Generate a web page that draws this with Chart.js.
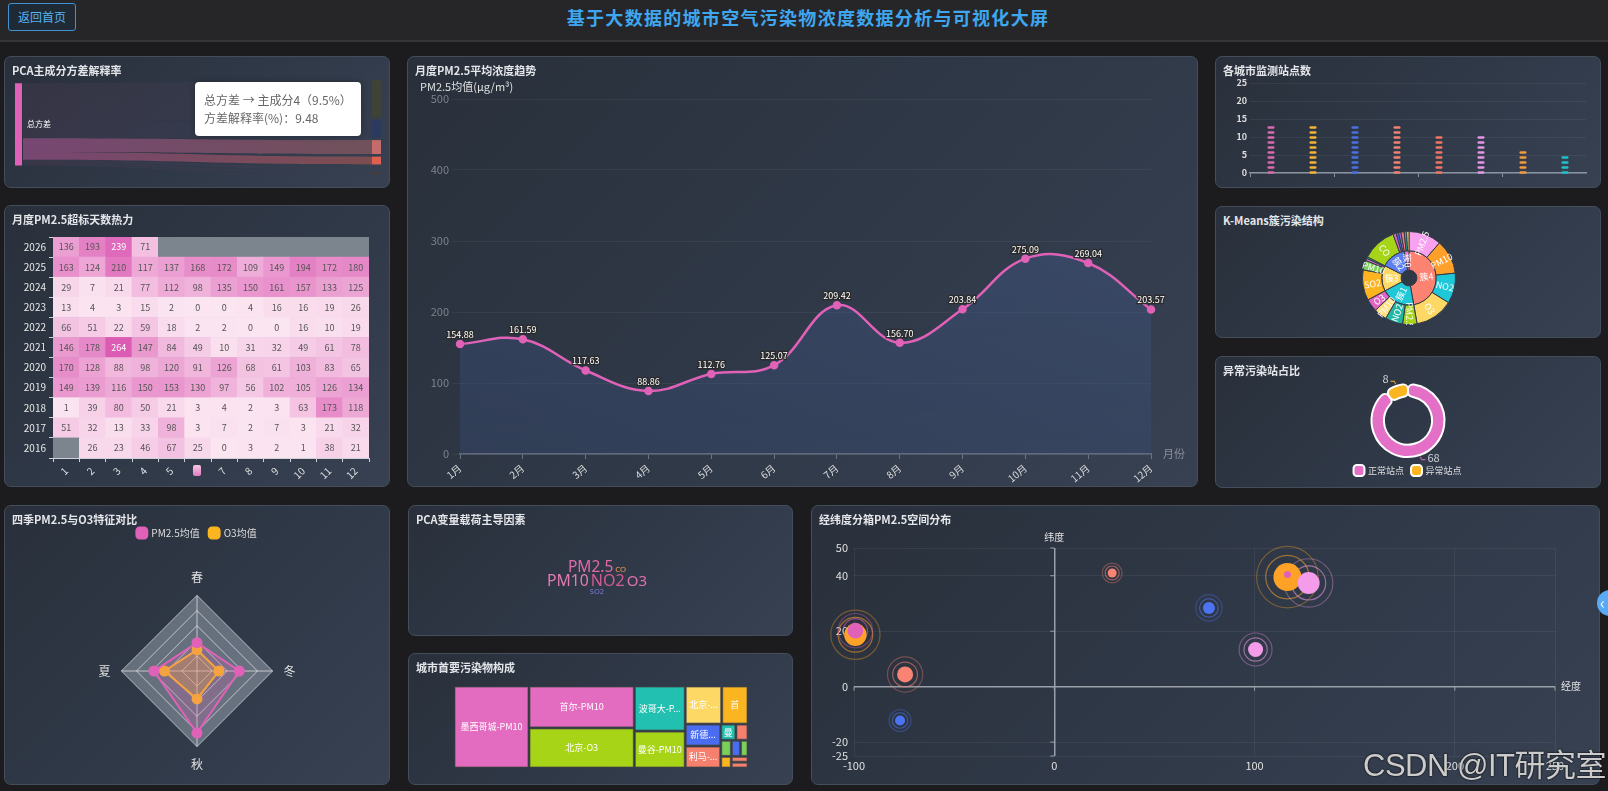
<!DOCTYPE html>
<html lang="zh-CN">
<head>
<meta charset="UTF-8">
<title>基于大数据的城市空气污染物浓度数据分析与可视化大屏</title>
<script src="https://cdn.jsdelivr.net/npm/chart.js@4.4.1/dist/chart.umd.min.js"></script>
<style>
  html, body { margin: 0; padding: 0; }
  body { width: 1608px; height: 791px; background: #1c1c1e; position: relative; overflow: hidden;
         font-family: "Noto Sans CJK SC", "Microsoft YaHei", sans-serif; }
  .header { position: absolute; left: 0; top: 0; width: 1608px; height: 40px; background: #262628; border-bottom: 2px solid #353538; }
  .back-btn { position: absolute; left: 8px; top: 3px; width: 66px; height: 26px; border: 1px solid #3f93d2; border-radius: 3px;
              color: #55b4f4; font-size: 12px; line-height: 26px; text-align: center; background: #1f2a34; }
  .title { position: absolute; left: 4px; width: 1608px; top: 7px; line-height: 20px; text-align: center; color: #3ea7ef;
           font-size: 18px; font-weight: bold; letter-spacing: 1.3px; }
  .panel { position: absolute; box-sizing: border-box; border: 1px solid #444d5b; border-radius: 7px; overflow: hidden;
           background: linear-gradient(135deg, #29303b 0%, #303948 55%, #374152 100%); }
  .ptitle { position: absolute; left: 7px; top: 6px; line-height: 14px; color: #e4e6ea; font-size: 11px; font-weight: bold; z-index: 2; }
  .panel canvas { position: absolute; }
  .tip { position: absolute; left: 190px; top: 25px; width: 166px; height: 54px; box-sizing: border-box; background: #fff;
         border-radius: 4px; box-shadow: 0 0 6px rgba(0,0,0,0.3); padding: 9px 0 0 9px; color: #666; font-size: 12px; line-height: 18px; z-index: 3; }
  .handle { position: absolute; left: 188px; top: 259px; width: 8px; height: 11px; border-radius: 2px;
            background: linear-gradient(#f6c6e3, #e27cc2); z-index: 3; }
  .mark { position: absolute; left: 1363px; top: 740px; font-family: "Liberation Sans", "Noto Sans CJK SC", sans-serif; font-size: 31px;
          color: rgba(225,225,225,0.9); text-shadow: 0 0 2px #000, 0 0 1px #000; letter-spacing: -0.5px; }
  .side-btn { position: absolute; left: 1597px; top: 590px; width: 26px; height: 26px; border-radius: 13px; background: #5aa9f5;
              color: #fff; font-size: 16px; line-height: 24px; text-indent: 3px; }
</style>
</head>
<body>
<div class="header">
  <div class="back-btn">返回首页</div>
  <div class="title">基于大数据的城市空气污染物浓度数据分析与可视化大屏</div>
</div>

<div class="panel" style="left:4px;top:56px;width:386px;height:132px">
  <div class="ptitle">PCA主成分方差解释率</div>
  <canvas id="pcaChart" width="384" height="130" style="left:0;top:0"></canvas>
  <div class="tip">总方差 → 主成分4（9.5%）<br>方差解释率(%)：9.48</div>
</div>

<div class="panel" style="left:4px;top:205px;width:386px;height:282px">
  <div class="ptitle">月度PM2.5超标天数热力</div>
  <canvas id="heatChart" width="384" height="280" style="left:0;top:0"></canvas>
  <div class="handle"></div>
</div>

<div class="panel" style="left:407px;top:56px;width:791px;height:431px">
  <div class="ptitle">月度PM2.5平均浓度趋势</div>
  <canvas id="trendChart" width="789" height="429" style="left:0;top:0"></canvas>
</div>

<div class="panel" style="left:1215px;top:56px;width:386px;height:132px">
  <div class="ptitle">各城市监测站点数</div>
  <canvas id="stationChart" width="384" height="130" style="left:0;top:0"></canvas>
</div>

<div class="panel" style="left:1215px;top:206px;width:386px;height:132px">
  <div class="ptitle">K-Means簇污染结构</div>
  <canvas id="clusterChart" width="94" height="94" style="left:146px;top:24px"></canvas>
</div>

<div class="panel" style="left:1215px;top:356px;width:386px;height:132px">
  <div class="ptitle">异常污染站占比</div>
  <canvas id="anomalyChart" width="384" height="114" style="left:0;top:16px"></canvas>
</div>

<div class="panel" style="left:4px;top:505px;width:386px;height:280px">
  <div class="ptitle">四季PM2.5与O3特征对比</div>
  <canvas id="seasonChart" width="384" height="266" style="left:0;top:12px"></canvas>
</div>

<div class="panel" style="left:408px;top:505px;width:385px;height:131px">
  <div class="ptitle">PCA变量载荷主导因素</div>
  <canvas id="cloudChart" width="383" height="111" style="left:0;top:18px"></canvas>
</div>

<div class="panel" style="left:408px;top:653px;width:385px;height:132px">
  <div class="ptitle">城市首要污染物构成</div>
  <canvas id="treeChart" width="383" height="130" style="left:0;top:0"></canvas>
</div>

<div class="panel" style="left:811px;top:505px;width:789px;height:280px">
  <div class="ptitle">经纬度分箱PM2.5空间分布</div>
  <canvas id="geoChart" width="787" height="278" style="left:0;top:0"></canvas>
</div>

<div class="mark">CSDN @IT研究室</div>
<div class="side-btn">‹</div>

<script>
// ---- data ----
const pcaSource = '总方差';
const pcaTargets = ['主成分1', '主成分2', '主成分3', '主成分4', '主成分5', '主成分6', '主成分7'];
const pcaRatio = [45.9, 20.8, 16.9, 9.48, 3.1, 2.3, 1.5];

const heatYears = ['2016', '2017', '2018', '2019', '2020', '2021', '2022', '2023', '2024', '2025', '2026'];
const heatMonths = ['1', '2', '3', '4', '5', '6', '7', '8', '9', '10', '11', '12'];
const overDays = [
    [null, 26, 23, 46, 67, 25, 0, 3, 2, 1, 38, 21],
    [51, 32, 13, 33, 98, 3, 7, 2, 7, 3, 21, 32],
    [1, 39, 80, 50, 21, 3, 4, 2, 3, 63, 173, 118],
    [149, 139, 116, 150, 153, 130, 97, 56, 102, 105, 126, 134],
    [170, 128, 88, 98, 120, 91, 126, 68, 61, 103, 83, 65],
    [146, 178, 264, 147, 84, 49, 10, 31, 32, 49, 61, 78],
    [66, 51, 22, 59, 18, 2, 2, 0, 0, 16, 10, 19],
    [13, 4, 3, 15, 2, 0, 0, 4, 16, 16, 19, 26],
    [29, 7, 21, 77, 112, 98, 135, 150, 161, 157, 133, 125],
    [163, 124, 210, 117, 137, 168, 172, 109, 149, 194, 172, 180],
    [136, 193, 239, 71, null, null, null, null, null, null, null, null]
];

const trendMonths = ['1月', '2月', '3月', '4月', '5月', '6月', '7月', '8月', '9月', '10月', '11月', '12月'];
const trendPm25 = [154.88, 161.59, 117.63, 88.86, 112.76, 125.07, 209.42, 156.70, 203.84, 275.09, 269.04, 203.57];

const stationCities = ['北京', '首尔', '墨西哥城', '波哥大', '新德里', '曼谷', '伊斯坦布尔', '利马'];
const stationCounts = [13, 13, 13, 13, 10, 10, 6, 5];

const clusterNames = ['簇4', '簇1', '簇3', '簇2', '簇0'];
const clusterSubNames = [
    ['PM2.5', 'PM10', 'NO2', 'O3'],
    ['PM2.5', 'NO2', 'PM10', 'O3'],
    ['SO2', 'PM10', 'O3', 'PM2.5'],
    ['CO', 'PM2.5', 'NO2', 'SO2'],
    ['PM2.5', 'PM10', 'NO2']
];
const clusterSubValues = [
    [41, 43, 38, 48],
    [18, 22, 16, 16],
    [38, 12, 3, 2],
    [43, 4, 3, 3],
    [4, 3, 3]
];

const anomalyLabels = ['正常站点', '异常站点'];
const anomalyCounts = [68, 8];

const seasons = ['春', '冬', '秋', '夏'];
const seasonPm25 = [75, 112, 164, 114];
const seasonO3 = [56, 58, 74, 86];

const cloudWords = ['PM2.5', 'CO', 'PM10', 'NO2', 'O3', 'SO2'];
const cloudWeights = [0.42, 0.11, 0.43, 0.44, 0.40, 0.10];

const treeNames = ['墨西哥城-PM10', '首尔-PM10', '北京-O3', '波哥大-PM10', '曼谷-PM10', '北京-PM2.5', '首尔-O3',
    '新德里-PM2.5', '利马-PM10', '曼谷-O3', '墨西哥城-O3', '波哥大-O3', '新德里-PM10', '利马-O3', '首尔-PM2.5',
    '墨西哥城-NO2', '曼谷-PM2.5'];
const treeValues = [252, 181, 173, 94, 77, 57, 41, 32, 32, 10, 8, 7, 6, 5, 5, 4, 4];

const binLng = [116.4, 116.4, 127.0, -99.3, -99.3, -74.5, -77.0, 28.9, 77.2, 100.5];
const binLat = [39.5, 40.4, 37.4, 18.7, 20.2, 4.4, -12.2, 41.0, 28.4, 13.4];
const binPm25 = [140, 35, 110, 112, 78, 80, 50, 45, 60, 75];
const latTicks = [-25, -20, 0, 20, 40, 50];
const lngTicks = [-100, 0, 100, 200, 250];

// ---- colours ----
const FONT = '"Noto Sans CJK SC", "Microsoft YaHei", sans-serif';
const PINK = '#e062b8';
const pcaColors = ['#3f4237', '#2b3a5e', '#c46b6b', '#e0604f', '#393e52', '#4a3c36', '#393e52'];
const stationColors = ['#d96ab0', '#f5b335', '#4a70e0', '#f08272', '#f07565', '#e596e6', '#f29b3a', '#22c0c8'];
const clusterColors = ['#fc8372', '#1ec8d6', '#fdd865', '#5b7ff0', '#e07ad0'];
const clusterSubColors = [
    ['#f9a1f1', '#fea02a', '#1fc8d8', '#fdd865'],
    ['#a5d419', '#22b6a6', '#ffdf7e', '#e065c2'],
    ['#fcb521', '#7bd05b', '#e065c2', '#22b6a6'],
    ['#a5d419', '#e065c2', '#4a6cf0', '#a070e0'],
    ['#f08070', '#22b6a6', '#fdd865']
];
const anomalyColors = ['#e46fc6', '#fbb521'];
const seasonColors = [PINK, '#fbb521'];
const cloudColors = ['#e06aa8', '#f5a050', '#e27bb0', '#d45b94', '#dd72ae', '#7c7ce0'];
const treeColors = ['#e46cc0', '#e46cc0', '#a8d418', '#22c0b0', '#a8d418', '#fdd865', '#fbb521', '#4a6cf0', '#f5806e',
    '#22c0b0', '#f5806e', '#7bd05b', '#4a6cf0', '#7bd05b', '#fbb521', '#f5806e', '#f5806e'];
const binColors = ['#fda226', PINK, '#f49ce9', '#fda226', PINK, '#fa8474', '#4c74f2', '#fa8474', '#4c74f2', '#f49ce9'];

Chart.defaults.font.family = FONT;
Chart.defaults.color = '#dddddd';
Chart.defaults.animation = false;
Chart.defaults.responsive = false;
Chart.defaults.plugins.legend.display = false;
Chart.defaults.plugins.tooltip.enabled = false;

const sum = (arr) => arr.reduce((a, b) => a + b, 0);

// ---- 1. PCA sankey ----
const sankeyGap = 3.2;
const sankeyLeftTop = 4;
const focusLinks = [2, 3];

const sankeyPlugin = {
    id: 'sankey',
    afterDatasetsDraw(chart) {
        const { ctx, scales: { x, y } } = chart;
        const nodeW = 8;
        const xa = x.getPixelForValue(0), xb = x.getPixelForValue(1);
        const linkL = xa + nodeW, linkR = xb - nodeW, mid = (linkL + linkR) / 2;
        let ly = sankeyLeftTop, ry = 0;
        ctx.save();
        pcaRatio.forEach((v, i) => {
            const l0 = y.getPixelForValue(ly), l1 = y.getPixelForValue(ly + v);
            const r0 = y.getPixelForValue(ry), r1 = y.getPixelForValue(ry + v);
            const g = ctx.createLinearGradient(linkL, 0, linkR, 0);
            g.addColorStop(0, PINK);
            g.addColorStop(1, pcaColors[i]);
            ctx.globalAlpha = focusLinks.includes(i) ? 0.42 : 0.07;
            ctx.fillStyle = g;
            ctx.beginPath();
            ctx.moveTo(linkL, l0);
            ctx.bezierCurveTo(mid, l0, mid, r0, linkR, r0);
            ctx.lineTo(linkR, r1);
            ctx.bezierCurveTo(mid, r1, mid, l1, linkL, l1);
            ctx.closePath();
            ctx.fill();
            ctx.globalAlpha = 1;
            ctx.fillStyle = pcaColors[i];
            ctx.fillRect(linkR, r0, nodeW + 1, r1 - r0);
            ly += v;
            ry += v + sankeyGap;
        });
        const s0 = y.getPixelForValue(sankeyLeftTop), s1 = y.getPixelForValue(ly);
        ctx.fillStyle = PINK;
        ctx.fillRect(xa, s0, nodeW - 1, s1 - s0);
        ctx.fillStyle = '#ffffff';
        ctx.font = '8px ' + FONT;
        ctx.textBaseline = 'middle';
        ctx.fillText(pcaSource, xa + nodeW + 4, (s0 + s1) / 2);
        ctx.restore();
    }
};

new Chart(document.getElementById('pcaChart'), {
    type: 'scatter',
    data: { datasets: [{ data: [] }] },
    options: {
        layout: { padding: { left: 10, right: 9, top: 23, bottom: 9 } },
        scales: {
            x: { display: false, min: 0, max: 1 },
            y: { display: false, min: 0, max: sum(pcaRatio) + sankeyGap * (pcaRatio.length - 1), reverse: true }
        }
    },
    plugins: [sankeyPlugin]
});

// ---- 2. heatmap ----
const heatMax = Math.max(...overDays.flat().filter(v => v != null));
function heatColor(v) {
    if (v == null) return '#7c848e';
    const t = v / heatMax;
    const c0 = [251, 229, 241], c1 = [220, 92, 180];
    return 'rgb(' + c0.map((c, k) => Math.round(c + (c1[k] - c) * t)).join(',') + ')';
}

const heatLabelPlugin = {
    id: 'heatLabels',
    afterDatasetsDraw(chart) {
        const { ctx } = chart;
        ctx.save();
        ctx.font = '9px ' + FONT;
        ctx.textAlign = 'center';
        ctx.textBaseline = 'middle';
        chart.data.datasets.forEach((ds, i) => {
            chart.getDatasetMeta(i).data.forEach((bar, j) => {
                const v = ds.days[j];
                if (v == null) return;
                ctx.fillStyle = v > 220 ? '#ffffff' : '#555555';
                ctx.fillText(String(v), bar.x, (bar.y + bar.base) / 2);
            });
        });
        ctx.restore();
    }
};

new Chart(document.getElementById('heatChart'), {
    type: 'bar',
    data: {
        labels: heatMonths,
        datasets: heatYears.map((year, i) => ({
            label: year,
            days: overDays[i],
            data: heatMonths.map(() => 1),
            backgroundColor: overDays[i].map(heatColor),
            borderWidth: 0,
            barPercentage: 1,
            categoryPercentage: 1,
            stack: 'heat'
        }))
    },
    options: {
        layout: { padding: { left: 0, right: 20, top: 31, bottom: 0 } },
        scales: {
            x: {
                stacked: true,
                grid: { drawOnChartArea: false, color: '#cfd3d8', tickLength: 4 },
                border: { color: '#cfd3d8' },
                ticks: { color: '#e0e0e0', font: { size: 10 }, minRotation: 45, maxRotation: 45 },
                afterFit: (s) => { s.height = 28; }
            },
            y: { stacked: true, display: false, min: 0, max: heatYears.length },
            yl: {
                type: 'category',
                position: 'left',
                labels: [...heatYears].reverse(),
                offset: true,
                grid: { drawOnChartArea: false, color: '#cfd3d8', tickLength: 4, offset: true },
                border: { color: '#cfd3d8' },
                ticks: { color: '#e8e8e8', font: { size: 10 } },
                afterFit: (s) => { s.width = 48; }
            }
        }
    },
    plugins: [heatLabelPlugin]
});

// ---- 3. monthly trend ----
const trendLabelPlugin = {
    id: 'trendLabels',
    afterDatasetsDraw(chart) {
        const { ctx, chartArea } = chart;
        ctx.save();
        ctx.font = '9px ' + FONT;
        ctx.textAlign = 'center';
        ctx.textBaseline = 'bottom';
        ctx.lineWidth = 2.5;
        ctx.strokeStyle = '#2a2a2a';
        ctx.fillStyle = '#ffffff';
        chart.getDatasetMeta(0).data.forEach((pt, i) => {
            const txt = trendPm25[i].toFixed(2);
            ctx.strokeText(txt, pt.x, pt.y - 5);
            ctx.fillText(txt, pt.x, pt.y - 5);
        });
        ctx.font = '11px ' + FONT;
        ctx.fillStyle = '#e0e0e0';
        ctx.textAlign = 'left';
        ctx.textBaseline = 'middle';
        ctx.fillText('PM2.5均值(μg/m³)', 12, chartArea.top - 12);
        ctx.fillStyle = '#8a8f99';
        ctx.fillText('月份', chartArea.right + 12, chartArea.bottom);
        ctx.restore();
    }
};

new Chart(document.getElementById('trendChart'), {
    type: 'line',
    data: {
        labels: trendMonths,
        datasets: [{
            data: trendPm25,
            borderColor: PINK,
            borderWidth: 2.5,
            tension: 0.4,
            pointRadius: 3,
            pointBackgroundColor: PINK,
            pointBorderColor: PINK,
            fill: true,
            backgroundColor: (c) => {
                const { ctx, chartArea } = c.chart;
                if (!chartArea) return 'transparent';
                const g = ctx.createLinearGradient(0, chartArea.top, 0, chartArea.bottom);
                g.addColorStop(0, 'rgba(72,98,150,0.45)');
                g.addColorStop(1, 'rgba(58,80,128,0.3)');
                return g;
            }
        }]
    },
    options: {
        layout: { padding: { left: 0, right: 46, top: 42, bottom: 0 } },
        scales: {
            y: {
                min: 0, max: 500,
                ticks: { stepSize: 100, color: '#7d838d', font: { size: 11 } },
                grid: { color: 'rgba(255,255,255,0.05)' },
                border: { display: false },
                afterFit: (s) => { s.width = 52; }
            },
            x: {
                grid: { drawOnChartArea: false, color: '#6b7482', tickLength: 5 },
                border: { color: '#6b7482', width: 1.5 },
                ticks: { color: '#dddddd', font: { size: 10 }, minRotation: 40, maxRotation: 40 },
                afterFit: (s) => { s.height = 32; }
            }
        }
    },
    plugins: [trendLabelPlugin]
});

// ---- 4. station counts ----
const dashPlugin = {
    id: 'dashBars',
    afterDatasetsDraw(chart) {
        const { ctx } = chart;
        ctx.save();
        chart.getDatasetMeta(0).data.forEach((bar, i) => {
            ctx.fillStyle = stationColors[i];
            for (let yy = bar.base; yy >= bar.y - 0.5; yy -= 5) {
                ctx.beginPath();
                ctx.roundRect(bar.x - 3.5, yy - 1.2, 7, 2.4, 1.2);
                ctx.fill();
            }
        });
        ctx.restore();
    }
};

new Chart(document.getElementById('stationChart'), {
    type: 'bar',
    data: {
        labels: stationCities,
        datasets: [{ data: stationCounts, backgroundColor: 'transparent', maxBarThickness: 7 }]
    },
    options: {
        layout: { padding: { left: 0, right: 14, top: 26, bottom: 0 } },
        scales: {
            y: {
                min: 0, max: 25,
                ticks: { stepSize: 5, color: '#dddddd', font: { size: 9, weight: 'bold' } },
                grid: { color: 'rgba(255,255,255,0.06)', drawTicks: false },
                border: { display: false },
                afterFit: (s) => { s.width = 34; }
            },
            x: {
                ticks: { display: false },
                grid: {
                    drawOnChartArea: false, tickLength: 4,
                    color: (c) => (c.index % 2 === 0 ? '#8a93a0' : 'transparent')
                },
                border: { color: '#8a93a0', width: 1.5 },
                afterFit: (s) => { s.height = 14; }
            }
        }
    },
    plugins: [dashPlugin]
});

// ---- 5. k-means sunburst ----
const sunLabelPlugin = {
    id: 'sunLabels',
    afterDatasetsDraw(chart) {
        const { ctx } = chart;
        ctx.save();
        ctx.fillStyle = '#ffffff';
        ctx.font = '9px ' + FONT;
        ctx.textAlign = 'center';
        ctx.textBaseline = 'middle';
        chart.data.datasets.forEach((ds, di) => {
            chart.getDatasetMeta(di).data.forEach((arc, i) => {
                if (arc.endAngle - arc.startAngle < 0.15) return;
                const a = (arc.startAngle + arc.endAngle) / 2;
                const rr = (arc.innerRadius + arc.outerRadius) / 2;
                ctx.save();
                ctx.translate(arc.x + Math.cos(a) * rr, arc.y + Math.sin(a) * rr);
                ctx.rotate(Math.cos(a) < -0.01 ? a + Math.PI : a);
                ctx.fillText(ds.names[i], 0, 0);
                ctx.restore();
            });
        });
        ctx.restore();
    }
};

new Chart(document.getElementById('clusterChart'), {
    type: 'doughnut',
    data: {
        datasets: [
            {
                data: clusterSubValues.flat(),
                names: clusterSubNames.flat(),
                backgroundColor: clusterSubColors.flat(),
                borderColor: '#343a46',
                borderWidth: 1
            },
            {
                data: clusterSubValues.map(sum),
                names: clusterNames,
                backgroundColor: clusterColors,
                borderColor: '#343a46',
                borderWidth: 1
            }
        ]
    },
    options: { cutout: '17%' },
    plugins: [sunLabelPlugin]
});

// ---- 6. anomaly ratio ----
const donutLabelPlugin = {
    id: 'donutLabels',
    afterDatasetsDraw(chart) {
        const { ctx } = chart;
        ctx.save();
        ctx.font = '11px ' + FONT;
        ctx.textBaseline = 'middle';
        chart.getDatasetMeta(0).data.forEach((arc, i) => {
            const a = (arc.startAngle + arc.endAngle) / 2;
            const r = arc.outerRadius;
            const dir = Math.cos(a) >= 0 ? 1 : -1;
            const x1 = arc.x + Math.cos(a) * (r + 2), y1 = arc.y + Math.sin(a) * (r + 2);
            const x2 = arc.x + Math.cos(a) * (r + 5), y2 = arc.y + Math.sin(a) * (r + 5);
            ctx.strokeStyle = anomalyColors[i];
            ctx.lineWidth = 1;
            ctx.beginPath();
            ctx.moveTo(x1, y1);
            ctx.lineTo(x2, y2);
            ctx.lineTo(x2 + dir * 4, y2);
            ctx.stroke();
            ctx.fillStyle = '#d0d4da';
            ctx.textAlign = dir > 0 ? 'left' : 'right';
            ctx.fillText(String(anomalyCounts[i]), x2 + dir * 6, y2 - 2);
        });
        ctx.restore();
    }
};

new Chart(document.getElementById('anomalyChart'), {
    type: 'doughnut',
    data: {
        labels: anomalyLabels,
        datasets: [{
            data: anomalyCounts,
            backgroundColor: anomalyColors,
            borderColor: '#ffffff',
            borderWidth: 2,
            borderRadius: 5
        }]
    },
    options: {
        cutout: '66%',
        layout: { padding: { top: 10, bottom: 2 } },
        plugins: {
            legend: {
                display: true,
                position: 'bottom',
                labels: {
                    usePointStyle: true, pointStyle: 'rectRounded', boxWidth: 9, boxHeight: 9,
                    color: '#dddddd', font: { size: 9 }, padding: 8
                }
            }
        }
    },
    plugins: [donutLabelPlugin]
});

// ---- 7. seasonal radar ----
const legendSpace = {
    id: 'legendSpace',
    beforeInit(chart) {
        const fit = chart.legend.fit;
        chart.legend.fit = function () {
            fit.bind(chart.legend)();
            this.height += 22;
        };
    }
};
const radarBgPlugin = {
    id: 'radarBg',
    beforeDraw(chart) {
        const r = chart.scales.r;
        const ctx = chart.ctx;
        ctx.save();
        ctx.beginPath();
        chart.data.labels.forEach((_, i) => {
            const p = r.getPointPosition(i, r.drawingArea);
            if (i) ctx.lineTo(p.x, p.y); else ctx.moveTo(p.x, p.y);
        });
        ctx.closePath();
        ctx.fillStyle = 'rgba(200,210,222,0.36)';
        ctx.fill();
        ctx.restore();
    }
};

new Chart(document.getElementById('seasonChart'), {
    type: 'radar',
    data: {
        labels: seasons,
        datasets: [
            {
                label: 'PM2.5均值', data: seasonPm25, borderColor: seasonColors[0], backgroundColor: 'rgba(224,98,184,0.22)',
                borderWidth: 2, pointRadius: 4.5, pointBackgroundColor: seasonColors[0], pointBorderColor: seasonColors[0]
            },
            {
                label: 'O3均值', data: seasonO3, borderColor: seasonColors[1], backgroundColor: 'rgba(251,181,33,0.3)',
                borderWidth: 2, pointRadius: 4.5, pointBackgroundColor: seasonColors[1], pointBorderColor: seasonColors[1]
            }
        ]
    },
    options: {
        layout: { padding: { top: 0, bottom: 12 } },
        scales: {
            r: {
                min: 0, max: 200,
                ticks: { display: false, stepSize: 40 },
                grid: { color: 'rgba(255,255,255,0.6)' },
                angleLines: { color: 'rgba(255,255,255,0.6)' },
                pointLabels: { color: '#e0e0e0', font: { size: 12 }, padding: 11 }
            }
        },
        plugins: {
            legend: {
                display: true,
                position: 'top',
                labels: {
                    usePointStyle: true, pointStyle: 'rectRounded', boxWidth: 9, boxHeight: 9,
                    color: '#dddddd', font: { size: 10 }, padding: 10,
                    generateLabels: (chart) => Chart.defaults.plugins.legend.labels.generateLabels(chart)
                        .map((l, i) => Object.assign(l, { fillStyle: seasonColors[i], strokeStyle: seasonColors[i] }))
                }
            }
        }
    },
    plugins: [legendSpace, radarBgPlugin]
});

// ---- 8. PCA loading word cloud ----
const cloudRows = [['PM2.5', 'CO'], ['PM10', 'NO2', 'O3'], ['SO2']];
const cloudPlugin = {
    id: 'cloud',
    afterDatasetsDraw(chart) {
        const { ctx, chartArea: a } = chart;
        const cx = (a.left + a.right) / 2, cy = (a.top + a.bottom) / 2;
        const maxW = Math.max(...cloudWeights), minW = Math.min(...cloudWeights);
        const sizeOf = (i) => 7.5 + (cloudWeights[i] - minW) / (maxW - minW) * 8.5;
        const rows = cloudRows.map(r => r.map(w => cloudWords.indexOf(w)));
        const capH = rows.map(r => Math.max(...r.map(i => sizeOf(i))) * 0.72);
        const gaps = [3, 2];
        let top = cy - (sum(capH) + sum(gaps)) / 2;
        ctx.save();
        ctx.textBaseline = 'alphabetic';
        ctx.textAlign = 'left';
        rows.forEach((row, k) => {
            const widths = row.map(i => { ctx.font = sizeOf(i) + 'px "Noto Sans", sans-serif'; return ctx.measureText(cloudWords[i]).width; });
            const total = sum(widths) + 2 * (row.length - 1);
            let x = cx - total / 2;
            const base = top + capH[k];
            row.forEach((i, j) => {
                ctx.font = sizeOf(i) + 'px "Noto Sans", sans-serif';
                ctx.fillStyle = cloudColors[i];
                ctx.fillText(cloudWords[i], x, base);
                x += widths[j] + 2;
            });
            top = base + (gaps[k] || 0);
        });
        ctx.restore();
    }
};

new Chart(document.getElementById('cloudChart'), {
    type: 'scatter',
    data: { datasets: [{ data: [] }] },
    options: {
        layout: { padding: { left: 0, right: 7, top: 0, bottom: 5 } },
        scales: { x: { display: false }, y: { display: false } }
    },
    plugins: [cloudPlugin]
});

// ---- 9. treemap ----
function squarify(values, x0, y0, x1, y1) {
    const ratio = (1 + Math.sqrt(5)) / 2;
    const rects = [];
    let value = sum(values);
    let i0 = 0;
    while (i0 < values.length) {
        const dx = x1 - x0, dy = y1 - y0;
        let i1 = i0;
        let total = values[i1++];
        let minV = total, maxV = total;
        const alpha = Math.max(dy / dx, dx / dy) / (value * ratio);
        let beta = total * total * alpha;
        let minRatio = Math.max(maxV / beta, beta / minV);
        for (; i1 < values.length; i1++) {
            const nv = values[i1];
            total += nv;
            minV = Math.min(minV, nv);
            maxV = Math.max(maxV, nv);
            beta = total * total * alpha;
            const r = Math.max(maxV / beta, beta / minV);
            if (r > minRatio) { total -= nv; break; }
            minRatio = r;
        }
        if (dx < dy) {
            const yb = value ? y0 + dy * total / value : y1;
            let xx = x0;
            for (let k = i0; k < i1; k++) {
                const w = dx * values[k] / total;
                rects[k] = [xx, y0, xx + w, yb];
                xx += w;
            }
            y0 = yb;
        } else {
            const xb = value ? x0 + dx * total / value : x1;
            let yy = y0;
            for (let k = i0; k < i1; k++) {
                const h = dy * values[k] / total;
                rects[k] = [x0, yy, xb, yy + h];
                yy += h;
            }
            x0 = xb;
        }
        value -= total;
        i0 = i1;
    }
    return rects;
}

const treePlugin = {
    id: 'treemap',
    afterDatasetsDraw(chart) {
        const { ctx, scales: { x, y } } = chart;
        const order = treeValues.map((_, i) => i).sort((p, q) => treeValues[q] - treeValues[p]);
        const rects = squarify(order.map(i => treeValues[i]),
            x.getPixelForValue(0), y.getPixelForValue(1), x.getPixelForValue(1), y.getPixelForValue(0));
        ctx.save();
        ctx.font = '9px ' + FONT;
        ctx.textAlign = 'center';
        ctx.textBaseline = 'middle';
        order.forEach((idx, k) => {
            const [ax, ay, bx, by] = rects[k];
            const w = bx - ax - 2, h = by - ay - 2;
            ctx.fillStyle = treeColors[idx];
            ctx.fillRect(ax + 1, ay + 1, w, h);
            ctx.strokeStyle = 'rgba(70,70,70,0.7)';
            ctx.lineWidth = 1;
            ctx.strokeRect(ax + 1, ay + 1, w, h);
            if (w < 12 || h < 14) return;
            let txt = treeNames[idx];
            const room = w - 3;
            if (ctx.measureText(txt).width > room) {
                let cut = txt;
                while (cut.length > 1 && ctx.measureText(cut + '...').width > room) cut = cut.slice(0, -1);
                txt = (cut.length < 2 || ctx.measureText(cut + '...').width > room) ? cut.slice(0, 1) : cut + '...';
            }
            ctx.fillStyle = '#ffffff';
            ctx.fillText(txt, ax + 1 + w / 2, ay + 1 + h / 2);
        });
        ctx.restore();
    }
};

new Chart(document.getElementById('treeChart'), {
    type: 'scatter',
    data: { datasets: [{ data: [] }] },
    options: {
        layout: { padding: { left: 45, right: 44, top: 32, bottom: 16 } },
        scales: { x: { display: false, min: 0, max: 1 }, y: { display: false, min: 0, max: 1 } }
    },
    plugins: [treePlugin]
});

// ---- 10. geo bubble scatter ----
const geoPlugin = {
    id: 'geo',
    beforeDatasetsDraw(chart) {
        const { ctx, chartArea, scales: { x, y } } = chart;
        ctx.save();
        chart.getDatasetMeta(0).data.forEach((pt, i) => {
            const r = binPm25[i] / 10;
            [[1.55, 0.55], [2.2, 0.35]].forEach(([k, alpha]) => {
                ctx.globalAlpha = alpha;
                ctx.strokeStyle = binColors[i];
                ctx.lineWidth = 1.2;
                ctx.beginPath();
                ctx.arc(pt.x, pt.y, r * k, 0, Math.PI * 2);
                ctx.stroke();
            });
        });
        ctx.globalAlpha = 1;
        // axis ticks on the zero lines
        const x0 = x.getPixelForValue(0), y0 = y.getPixelForValue(0);
        ctx.strokeStyle = '#9aa0aa';
        ctx.lineWidth = 1;
        ctx.beginPath();
        latTicks.forEach(v => { const py = y.getPixelForValue(v); ctx.moveTo(x0 - 4, py); ctx.lineTo(x0, py); });
        lngTicks.forEach(v => { const px = x.getPixelForValue(v); ctx.moveTo(px, y0); ctx.lineTo(px, y0 + 4); });
        ctx.stroke();
        ctx.fillStyle = '#e0e0e0';
        ctx.font = '10px ' + FONT;
        ctx.textBaseline = 'middle';
        ctx.textAlign = 'center';
        ctx.fillText('纬度', x0, chartArea.top - 11);
        ctx.textAlign = 'left';
        ctx.fillText('经度', chartArea.right + 6, y0);
        ctx.restore();
    }
};

const zeroGrid = (c) => (c.tick && c.tick.value === 0 ? '#9aa0aa' : 'rgba(255,255,255,0.06)');

new Chart(document.getElementById('geoChart'), {
    type: 'bubble',
    data: {
        datasets: [{
            data: binLng.map((lng, i) => ({ x: lng, y: binLat[i], r: binPm25[i] / 10 })),
            backgroundColor: binColors,
            borderWidth: 0,
            clip: false
        }]
    },
    options: {
        layout: { padding: { left: 0, right: 44, top: 42, bottom: 0 } },
        scales: {
            x: {
                min: -100, max: 250,
                afterBuildTicks: (s) => { s.ticks = lngTicks.map(v => ({ value: v })); },
                ticks: { color: '#e0e0e0', font: { size: 11 } },
                grid: { color: zeroGrid, lineWidth: (c) => (c.tick && c.tick.value === 0 ? 1.5 : 1), drawTicks: false },
                border: { display: false },
                afterFit: (s) => { s.height = 28; }
            },
            y: {
                min: -25, max: 50,
                afterBuildTicks: (s) => { s.ticks = latTicks.map(v => ({ value: v })); },
                ticks: { color: '#e0e0e0', font: { size: 11 }, padding: 6 },
                grid: { color: zeroGrid, lineWidth: (c) => (c.tick && c.tick.value === 0 ? 1.5 : 1), drawTicks: false },
                border: { display: false },
                afterFit: (s) => { s.width = 42; }
            }
        }
    },
    plugins: [geoPlugin]
});
</script>
</body>
</html>
